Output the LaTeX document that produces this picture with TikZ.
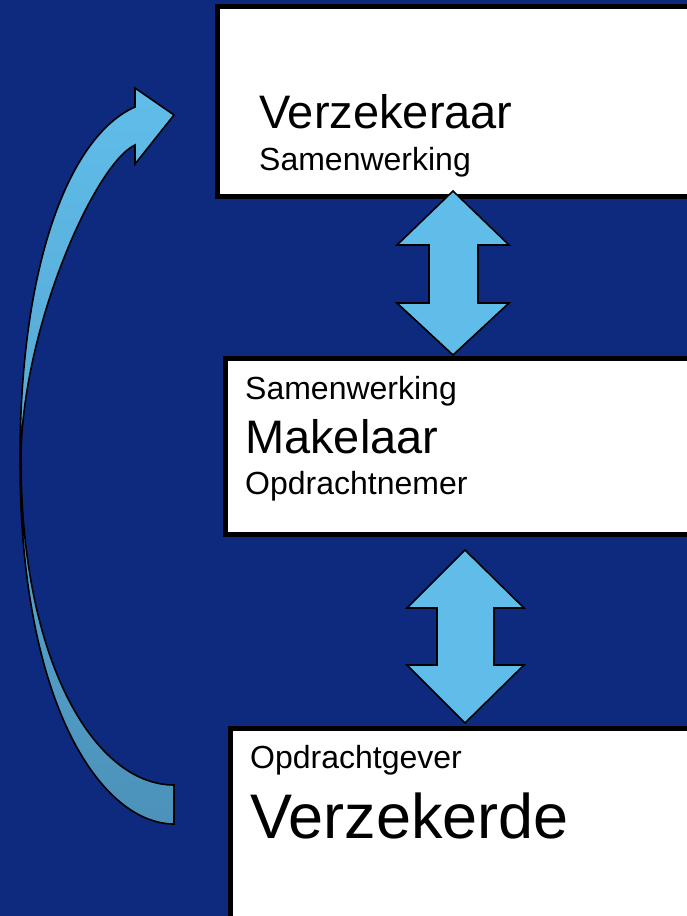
\documentclass[tikz,border=0pt]{standalone}
\usepackage{fontspec}
\setmainfont{Liberation Sans}
\definecolor{bgblue}{RGB}{14,42,126}
\definecolor{lightblue}{RGB}{96,189,234}
\definecolor{tailblue}{RGB}{76,146,186}
\tikzset{
  box/.style={draw=black, fill=white, line width=5pt, outer sep=0pt, inner sep=0pt, anchor=north west},
  bigtxt/.style={anchor=base west, inner sep=0pt, font=\fontsize{47}{47}\selectfont},
  hugetxt/.style={anchor=base west, inner sep=0pt, font=\fontsize{63}{63}\selectfont},
  smalltxt/.style={anchor=base west, inner sep=0pt, font=\fontsize{32}{32}\selectfont},
  dblarrow/.style={draw=black, fill=lightblue, line width=1.6pt, line join=miter},
  curvearrow/.style={draw=black, line width=1.6pt, line join=miter, top color=lightblue, bottom color=tailblue}
}
\begin{document}
\begin{tikzpicture}[x=1pt, y=-1pt]
\fill[bgblue] (0,0) rectangle (687,916);
\useasboundingbox (0,0) rectangle (687,916);
\clip (0,0) rectangle (687,916);

% boxes
\node[box, minimum width=520pt, minimum height=190.5pt] (ins) at (217.5,6) {};
\node[box, minimum width=520pt, minimum height=176pt] (mak) at (225,358) {};
\node[box, minimum width=520pt, minimum height=240pt] (ver) at (230,728) {};

% texts
\node[bigtxt] (insname) at (259,128) {Verzekeraar};
\node[smalltxt] (inssub) at (259,170) {Samenwerking};
\node[smalltxt] (maktop) at (245,399) {Samenwerking};
\node[bigtxt] (makname) at (245,453) {Makelaar};
\node[smalltxt] (maksub) at (245,494) {Opdrachtnemer};
\node[smalltxt] (vertop) at (250,768) {Opdrachtgever};
\node[hugetxt] (vername) at (250,838) {Verzekerde};

% double arrows between boxes
\draw[dblarrow] (453,191) -- (509,245) -- (478,245) -- (478,303) -- (509,303) -- (453,355)
  -- (397,303) -- (429,303) -- (429,245) -- (397,245) -- cycle;
\draw[dblarrow] (465,550) -- (524,608) -- (494,608) -- (494,665) -- (524,665) -- (465,723)
  -- (407,665) -- (437,665) -- (437,608) -- (407,608) -- cycle;

% curved arrow from Verzekerde back to Verzekeraar
\coordinate (tip) at (174,115);
\coordinate (tail) at (174,824);
\draw[curvearrow] (tip) -- (135,88) -- (135,107)
  .. controls (71,135) and (20,260) .. (20,460)
  .. controls (20,710) and (104,824) .. (tail)
  -- (174,785)
  .. controls (94,785) and (21,660) .. (21,460)
  .. controls (21,330) and (94.5,164) .. (135,145)
  -- (135,164) -- cycle;
\end{tikzpicture}
\end{document}
